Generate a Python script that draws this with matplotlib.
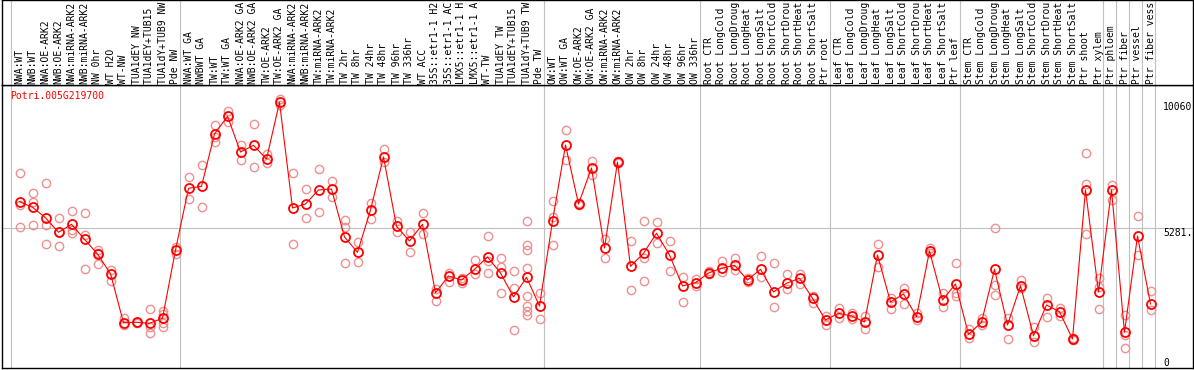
import matplotlib
matplotlib.use('Agg')
import matplotlib.pyplot as plt

# expression of Potri.005G219700 across poplar samples
gene = 'Potri.005G219700'

labels = [
    'NWA:WT', 'NWB:WT', 'NWA:OE-ARK2', 'NWB:OE-ARK2', 'NWA:miRNA-ARK2', 'NWB:miRNA-ARK2',
    'NW 0hr', 'WT H2O', 'WT-NW', 'TUA1dEY NW', 'TUA1dEY+TUB15 NW', 'TUA1dY+TUB9 NW', 'Pde NW',
    'NWA:WT GA', 'NWBWT GA', 'TW:WT', 'TW:WT GA', 'NWA:OE-ARK2 GA', 'NWB:OE-ARK2 GA',
    'TW:OE-ARK2', 'TW:OE-ARK2 GA', 'NWA:miRNA-ARK2 GA', 'NWB:miRNA-ARK2 GA', 'TW:miRNA-ARK2',
    'TW:miRNA-ARK2', 'TW 2hr', 'TW 8hr', 'TW 24hr', 'TW 48hr', 'TW 96hr', 'TW 336hr', 'WT ACC',
    '35S::etr1-1 H2O', '35S::etr1-1 ACC', 'LMX5::etr1-1 H2O', 'LMX5::etr1-1 ACC', 'WT-TW',
    'TUA1dEY TW', 'TUA1dEY+TUB15 TW', 'TUA1dY+TUB9 TW', 'Pde TW',
    'OW:WT', 'OW:WT GA', 'OW:OE-ARK2', 'OW:OE-ARK2 GA', 'OW:miRNA-ARK2', 'OW:miRNA-ARK2',
    'OW 2hr', 'OW 8hr', 'OW 24hr', 'OW 48hr', 'OW 96hr', 'OW 336hr',
    'Root CTR', 'Root LongCold', 'Root LongDrought', 'Root LongHeat', 'Root LongSalt',
    'Root ShortCold', 'Root ShortDrought', 'Root ShortHeat', 'Root ShortSalt', 'Ptr root',
    'Leaf CTR', 'Leaf LongCold', 'Leaf LongDrought', 'Leaf LongHeat', 'Leaf LongSalt',
    'Leaf ShortCold', 'Leaf ShortDrought', 'Leaf ShortHeat', 'Leaf ShortSalt', 'Ptr leaf',
    'Stem CTR', 'Stem LongCold', 'Stem LongDrought', 'Stem LongHeat', 'Stem LongSalt',
    'Stem ShortCold', 'Stem ShortDrought', 'Stem ShortHeat', 'Stem ShortSalt', 'Ptr shoot',
    'Ptr xylem', 'Ptr phloem', 'Ptr fiber', 'Ptr vessel', 'Ptr fiber vessel',
]

# index of first sample in each group (plus end)
group_starts = [0, 13, 41, 53, 63, 73, 84, 85, 86, 87, 88]

mean_expr = [
    6365, 6137, 5713, 5119, 5444, 4834, 4235, 3433, 1437, 1454, 1413, 1617, 4398,
    6910, 6992, 9121, 9842, 8388, 8661, 8103, 10412, 6108, 6271, 6841, 6882, 4927,
    4304, 6027, 8185, 5363, 4764, 5444, 2659, 3339, 3176, 3612, 4113, 3461, 2484,
    3286, 2117,
    5579, 8673, 6271, 7737, 4479, 7981, 3734, 4263, 5078, 4194, 2932, 3066,
    3461, 3653, 3775, 3176, 3612, 2688, 3042, 3245, 2431, 1547,
    1820, 1710, 1466, 4194, 2280, 2606, 1682, 4357, 2362, 3013,
    965, 1454, 3612, 1344, 2944, 908, 2158, 1885, 774, 6841, 2688,
    6841, 1047, 4968, 2199,
]

replicates = [
    [7521, 6230, 5322], [6707, 6340, 5416], [7114, 5416, 4642], [5689, 5119, 4561],
    [5986, 5212, 5102], [5892, 5009, 3612], [4398, 4263, 3828], [3583, 3148],
    [1617, 1344], [1478, 1413], [1995, 1275, 1006], [1914, 1792, 1413, 1275],
    [4532, 4223],
    [7358, 6474], [7847, 6137], [9488, 9011, 8808], [10058, 9622], [8673, 8063],
    [9516, 7765], [8307, 7928], [10562, 10302], [7521, 4642], [6869, 5689],
    [7684, 5933], [7207, 6544], [5619, 5347, 3868], [4711, 3897], [6324, 5648],
    [8498, 7993], [5579, 5143], [5143, 4304], [5892, 5037], [2810, 2309],
    [3449, 3107], [3245, 3042], [3978, 3408], [4968, 3950, 3449], [4060, 3718, 2647],
    [3543, 2838, 1140], [5579, 4601, 4386, 3653, 2525, 2117, 1926, 1751], [2659, 1576],
    [6393, 5729, 4601], [9272, 8063], [6324, 6230], [8022, 7452], [4834, 4060],
    [8022, 7928], [4764, 2769], [5579, 4084, 3135], [5526, 4671], [4764, 3543],
    [3286, 2280], [3217, 2932],
    [3543, 3408], [3950, 3490], [4084, 3583], [3245, 3107], [4153, 3286],
    [3856, 2064], [3420, 2810], [3420, 3001], [2525, 2252], [1710, 1344],
    [2024, 1617], [1845, 1576], [1710, 1193], [4642, 3718], [2431, 1995],
    [2838, 2187], [1820, 1547], [4467, 4263], [2659, 2089], [3856, 2635, 2525],
    [1169, 802], [1617, 1344], [5281, 2960, 2565], [1617, 761], [3176, 2838],
    [1275, 664], [2431, 1682], [2024, 1710], [802, 733], [8335, 7085, 5049],
    [3245, 2903, 1995],
    [7045, 6434], [1751, 937, 395], [5782, 4194], [2728, 1955],
]

axis_labels = ['10060', '5281.', '0']
axis_label_pos = [max(mean_expr), 5281, 0]

W, H = 1194, 370
plt.rcParams['font.family'] = 'DejaVu Sans Mono'
plt.rcParams['font.size'] = 7

fig = plt.figure(figsize=(W / 100, H / 100), dpi=100)


def px_rect(x0, y0, x1, y1):
    return [x0 / W, 1 - y1 / H, (x1 - x0) / W, (y1 - y0) / H]


ax = fig.add_axes(px_rect(2, 85, 1193, 368))
hd = fig.add_axes(px_rect(2, 0, 1193, 85))

xlim = ((2 - 19.5) / 13, (1193 - 19.5) / 13)
grid_col = '#c0c0c0'

for a in (ax, hd):
    a.set_xlim(*xlim)
    a.set_xticks([])
    a.set_yticks([])
    for s in a.spines.values():
        s.set_color('black')
        s.set_linewidth(1.0)
    for g in group_starts:
        a.axvline(g - 0.65, color=grid_col, lw=0.8, zorder=0)

# header with rotated sample names (the header only has room for 14 chars)
hd.set_ylim(85, 0)
for i, lab in enumerate(labels):
    hd.text(i, 83.5, lab[:14], rotation=90, ha='center', va='bottom',
            color='black')

# main expression plot
ax.set_ylim(-10 * 40.72, 273 * 40.72)
ax.axhline(5281, color=grid_col, lw=0.8, zorder=0)

for i, reps in enumerate(replicates):
    ax.plot([i] * len(reps), reps, 'o', mfc='none', mec='#f09090',
            ms=6, mew=1.0, zorder=2)

ax.plot(range(len(mean_expr)), mean_expr, color='red', lw=0.8,
        marker='o', mfc='none', mec='red', ms=6.5, mew=1.3, zorder=3)

ax.text(8 / 1191, 1 - 6 / 283, gene, transform=ax.transAxes, color='red',
        ha='left', va='top')

for lab, v in zip(axis_labels, axis_label_pos):
    ax.text((1163 - 2) / 1191, v, lab, transform=ax.get_yaxis_transform(),
            ha='left', va='top', color='black')

fig.savefig('out.png', dpi=100)
